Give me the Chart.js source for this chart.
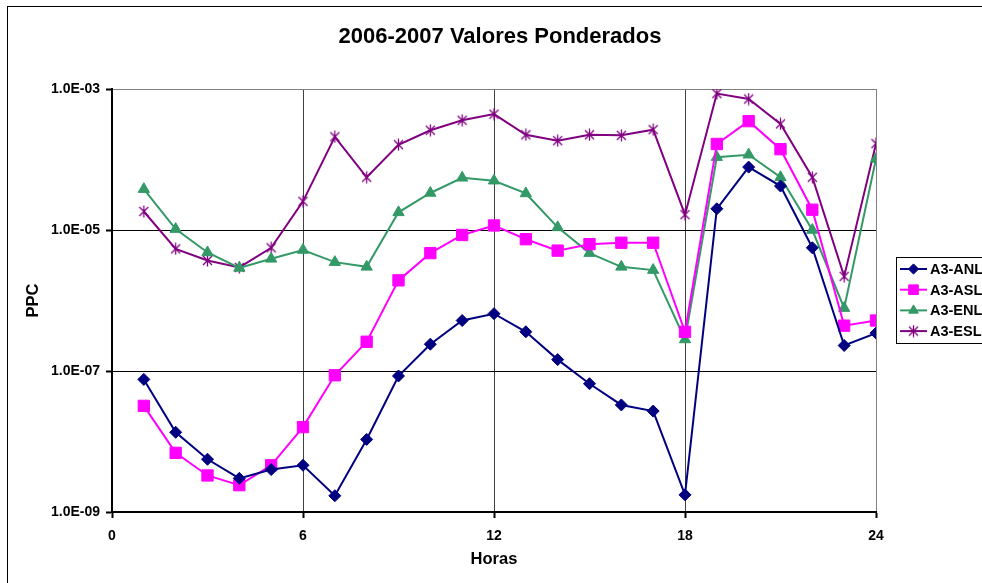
<!DOCTYPE html>
<html>
<head>
<meta charset="utf-8">
<script src="https://cdn.jsdelivr.net/npm/chart.js@4/dist/chart.umd.min.js"></script>
<style>
  body { margin: 0; background: #fff; }
  canvas { display: block; }
</style>
</head>
<body>
<canvas id="chart" width="982" height="583"></canvas>
<script>
// chart data
const chartTitle = "2006-2007 Valores Ponderados";
const hours = [1,2,3,4,5,6,7,8,9,10,11,12,13,14,15,16,17,18,19,20,21,22,23,24];

const anl = [7.6e-8, 1.35e-8, 5.6e-9, 3.0e-9, 4.0e-9, 4.6e-9, 1.7e-9, 1.07e-8, 8.5e-8, 2.4e-7, 5.2e-7, 6.5e-7,
             3.6e-7, 1.45e-7, 6.6e-8, 3.3e-8, 2.7e-8, 1.75e-9, 2.0e-5, 7.8e-5, 4.2e-5, 5.6e-6, 2.3e-7, 3.45e-7];
const asl = [3.2e-8, 6.9e-9, 3.3e-9, 2.4e-9, 4.6e-9, 1.6e-8, 8.7e-8, 2.6e-7, 1.93e-6, 4.7e-6, 8.5e-6, 1.16e-5,
             7.4e-6, 5.1e-6, 6.3e-6, 6.6e-6, 6.6e-6, 3.6e-7, 1.66e-4, 3.5e-4, 1.4e-4, 1.94e-5, 4.4e-7, 5.2e-7];
const enl = [3.8e-5, 1.03e-5, 4.8e-6, 2.9e-6, 3.9e-6, 5.2e-6, 3.5e-6, 3.0e-6, 1.78e-5, 3.35e-5, 5.5e-5, 5.0e-5,
             3.3e-5, 1.09e-5, 4.7e-6, 3.0e-6, 2.7e-6, 2.8e-7, 1.08e-4, 1.17e-4, 5.6e-5, 1.0e-5, 7.8e-7, 1.02e-4];
const esl = [1.83e-5, 5.4e-6, 3.7e-6, 2.95e-6, 5.6e-6, 2.55e-5, 2.1e-4, 5.6e-5, 1.62e-4, 2.6e-4, 3.6e-4, 4.4e-4,
             2.24e-4, 1.85e-4, 2.24e-4, 2.2e-4, 2.65e-4, 1.65e-5, 8.6e-4, 7.2e-4, 3.2e-4, 5.6e-5, 2.2e-6, 1.68e-4];

const xTicks = [0, 6, 12, 18, 24];
const yTicks = [1e-9, 1e-7, 1e-5, 1e-3];
const yTickLabels = ["1.0E-09", "1.0E-07", "1.0E-05", "1.0E-03"];

const FONT = "'Liberation Sans', Arial, sans-serif";

// excel style star marker: an X with a vertical bar
function makeStar(color) {
  const c = document.createElement("canvas");
  c.width = 13; c.height = 13;
  const g = c.getContext("2d");
  g.strokeStyle = color;
  g.lineWidth = 1.3;
  g.beginPath();
  g.moveTo(2, 2); g.lineTo(11, 11);
  g.moveTo(11, 2); g.lineTo(2, 11);
  g.moveTo(6.5, 0.5); g.lineTo(6.5, 12.5);
  g.stroke();
  return c;
}

function series(label, values, color, style, radius) {
  return {
    label: label,
    data: hours.map((h, i) => ({ x: h, y: values[i] })),
    borderColor: color,
    backgroundColor: color,
    borderWidth: 2,
    tension: 0,
    pointStyle: style,
    pointRadius: radius,
    pointBorderWidth: 1,
    pointBackgroundColor: color,
    pointBorderColor: color
  };
}

const datasets = [
  series("A3-ANL", anl, "#000080", "rectRot", 6),
  series("A3-ASL", asl, "#FF00FF", "rect", 8),
  series("A3-ENL", enl, "#339966", "triangle", 6.5),
  series("A3-ESL", esl, "#800080", makeStar("#800080"), 6)
];

// frame, title and legend box drawn like the excel original
const decor = {
  id: "decor",
  beforeDraw(chart) {
    const ctx = chart.ctx;
    ctx.save();
    ctx.fillStyle = "#fff";
    ctx.fillRect(0, 0, chart.width, chart.height);
    ctx.strokeStyle = "#000";
    ctx.lineWidth = 1;
    ctx.strokeRect(7.5, 6.5, 1000, 600);
    ctx.restore();
  },
  afterDraw(chart) {
    const ctx = chart.ctx;
    ctx.save();
    ctx.fillStyle = "#000";
    ctx.font = "bold 22px " + FONT;
    ctx.textAlign = "center";
    ctx.textBaseline = "middle";
    ctx.fillText(chartTitle, 500, 37);

    // legend
    ctx.strokeStyle = "#000";
    ctx.lineWidth = 1;
    ctx.strokeRect(896.5, 257.5, 100, 86);
    ctx.font = "bold 14.5px " + FONT;
    ctx.textAlign = "left";
    chart.data.datasets.forEach((ds, i) => {
      const y = 269 + i * 20.7;
      ctx.strokeStyle = ds.borderColor;
      ctx.lineWidth = 2;
      ctx.beginPath();
      ctx.moveTo(900, y);
      ctx.lineTo(927, y);
      ctx.stroke();
      ctx.fillStyle = ds.borderColor;
      ctx.strokeStyle = ds.borderColor;
      ctx.lineWidth = 1;
      Chart.helpers.drawPoint(ctx, {
        pointStyle: ds.pointStyle,
        radius: ds.pointRadius * 0.85,
        rotation: 0,
        borderWidth: 1
      }, 913.5, y);
      ctx.fillStyle = "#000";
      ctx.fillText(ds.label, 930, y + 1);
    });
    ctx.restore();
  }
};

new Chart(document.getElementById("chart"), {
  type: "line",
  data: { datasets: datasets },
  plugins: [decor],
  options: {
    responsive: false,
    animation: false,
    devicePixelRatio: 1,
    layout: { padding: { left: 20, top: 89, right: 106, bottom: 10 } },
    plugins: {
      legend: { display: false },
      title: { display: false },
      tooltip: { enabled: false }
    },
    scales: {
      x: {
        type: "linear",
        min: 0,
        max: 24,
        afterBuildTicks: s => { s.ticks = xTicks.map(v => ({ value: v })); },
        afterFit: s => { s.height = 61; },
        ticks: {
          color: "#000",
          font: { family: FONT, weight: "bold", size: 14 },
          padding: 10,
          maxRotation: 0,
          autoSkip: false
        },
        grid: {
          color: c => (c.tick && c.tick.value === 24) ? "#808080" : "#404040",
          lineWidth: 1,
          tickLength: 6,
          tickColor: "#000",
          tickWidth: 2
        },
        border: { color: "#000", width: 2 },
        title: {
          display: true,
          text: "Horas",
          color: "#000",
          font: { family: FONT, weight: "bold", size: 16.5 },
          padding: { top: 0, bottom: 4 }
        }
      },
      y: {
        type: "logarithmic",
        min: 1e-9,
        max: 1e-3,
        afterBuildTicks: s => { s.ticks = yTicks.map(v => ({ value: v })); },
        afterFit: s => { s.width = 92; },
        ticks: {
          color: "#000",
          font: { family: FONT, weight: "bold", size: 14 },
          padding: 6,
          autoSkip: false,
          callback: (v, i) => yTickLabels[i]
        },
        grid: {
          color: c => (c.tick && c.tick.value === 1e-3) ? "#808080" : "#000",
          lineWidth: 1,
          tickLength: 6,
          tickColor: "#000",
          tickWidth: 2
        },
        border: { color: "#000", width: 2 },
        title: {
          display: true,
          text: "PPC",
          color: "#000",
          font: { family: FONT, weight: "bold", size: 16.5 },
          padding: { top: 4, bottom: 0 }
        }
      }
    }
  }
});
</script>
</body>
</html>
